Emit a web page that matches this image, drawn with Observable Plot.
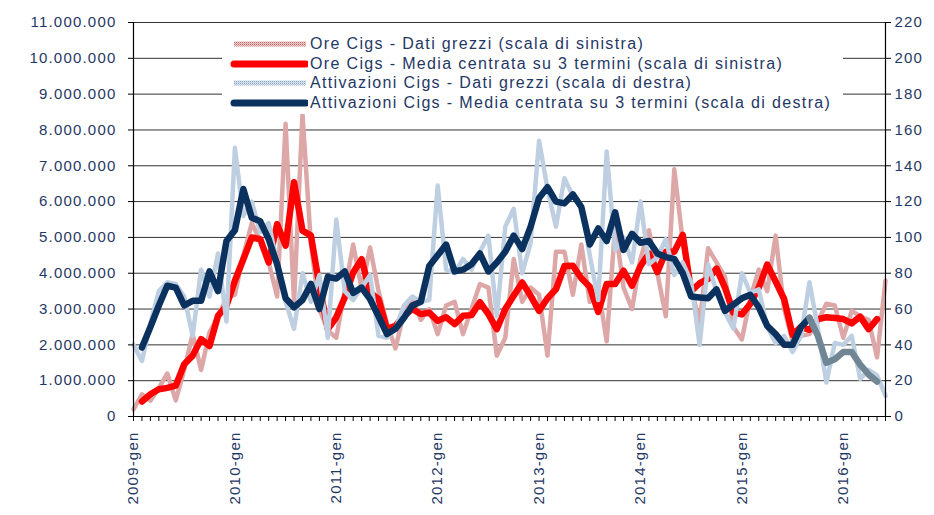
<!DOCTYPE html>
<html>
<head>
<meta charset="utf-8">
<script src="https://cdn.jsdelivr.net/npm/d3@7"></script>
<script src="https://cdn.jsdelivr.net/npm/@observablehq/plot@0.6"></script>
<style>
  body { margin: 0; background: #fff; }
  #wrap { position: relative; width: 934px; height: 515px; }
  #chart svg text { letter-spacing: 1.2px; }
  #legend { position: absolute; left: 222px; top: 34px; width: 621px; height: 80px; background: #fff;
    font-family: "Liberation Sans", Arial, sans-serif; font-size: 16px; letter-spacing: 1.35px; color: #1f3864; }
  .row { position: absolute; left: 8px; height: 20px; display: flex; align-items: center; white-space: nowrap; }
  .row svg { margin-right: 2px; }
</style>
</head>
<body>
<svg width="0" height="0" style="position:absolute">
  <defs>
    <pattern id="patRed" width="2" height="2" patternUnits="userSpaceOnUse">
      <rect width="2" height="2" fill="#f1d2d2"/><rect width="1" height="1" fill="#b85f5f"/><rect x="1" y="1" width="1" height="1" fill="#d99a9a"/>
    </pattern>
    <pattern id="patBlue" width="2" height="2" patternUnits="userSpaceOnUse">
      <rect width="2" height="2" fill="#dfe8f2"/><rect width="1" height="1" fill="#84a2c3"/><rect x="1" y="1" width="1" height="1" fill="#b5c9de"/>
    </pattern>
    <pattern id="patGray" width="2" height="2" patternUnits="userSpaceOnUse">
      <rect width="2" height="2" fill="#5d7584"/><rect width="1" height="1" fill="#a9bac6"/>
    </pattern>
  </defs>
</svg>
<div id="wrap"><div id="chart"></div><div id="legend"></div></div>
<script>
// Etichette dell'asse orizzontale (una ogni gennaio)
const tickLabels = ["2009-gen", "2010-gen", "2011-gen", "2012-gen", "2013-gen", "2014-gen", "2015-gen", "2016-gen"];

// Ore Cigs - dati grezzi (milioni di ore), gen 2009 - giu 2016
const oreGrezzi = [0.2,0.62,0.44,0.8,1.2,0.45,1.3,2.3,1.3,2.35,
  2.8,3.3,3.4,4.5,5.4,4.9,4.3,3.35,8.17,3.2,
  8.45,4.8,3.0,2.4,2.2,3.5,4.8,3.56,4.72,3.5,
  2.6,1.9,2.9,3.3,2.7,3.0,2.3,3.1,3.2,2.3,
  3.0,3.7,3.6,1.7,2.2,4.4,3.2,3.6,3.4,1.7,
  4.6,4.6,3.4,4.8,3.2,3.6,2.1,5.3,3.6,3.0,
  4.4,5.2,4.0,2.8,6.9,4.9,3.6,2.6,4.7,4.3,
  3.9,2.5,2.15,3.3,4.1,3.5,5.05,3.0,2.1,2.25,
  2.3,2.65,3.15,3.1,2.2,2.95,2.8,2.7,1.65,3.8];

// Ore Cigs - media centrata su 3 termini (milioni di ore)
const oreMedia = [null,0.42,0.62,0.76,0.8,0.86,1.46,1.7,2.16,1.97,
  2.81,3.09,3.79,4.39,5.0,4.95,4.3,5.37,4.77,6.54,
  5.19,5.05,3.65,2.44,2.77,3.32,4.02,4.39,3.46,3.28,
  2.44,2.53,2.81,3.0,2.86,2.9,2.67,2.77,2.58,2.81,
  2.83,3.19,2.86,2.44,3.0,3.37,3.74,3.37,2.95,3.3,
  3.55,4.2,4.21,3.86,3.62,2.92,3.7,3.7,4.07,3.65,
  4.2,4.55,4.03,4.6,4.6,5.07,3.5,3.72,3.84,4.13,
  3.6,2.9,2.85,3.15,3.6,4.24,3.77,3.28,2.28,2.5,
  2.42,2.72,2.77,2.75,2.72,2.6,2.79,2.44,2.72,null];

// Attivazioni Cigs - dati grezzi (scala di destra)
const attivGrezzi = [40,31,52,70,75,74,67,45,82,67,
  91,53,150,112,120,103,108,86,64,49,
  80,64,79,44,110,70,65,72,79,45,
  44,49,62,67,64,65,129,82,80,88,
  82,92,101,56,106,116,80,97,154,127,
  106,133,123,118,90,65,148,93,100,86,
  120,85,89,99,79,86,75,40,85,70,
  58,49,80,69,71,50,41,45,36,45,
  75,49,19,41,40,45,21,26,23,11.5];

// Attivazioni Cigs - media centrata su 3 termini (scala di destra)
const attivMedia = [null,38.5,50,62,73,72,62,64.6,64.6,81,
  70,98,104,127,111,109,99,85,66,61,
  65,74,60,78,77,81,69,72,65.5,56,
  46,49,55,62,64,84,90,96,81,82,
  85,91,81,86,92,101,93.5,106,122,128,
  120,119,124,117,96,105,98,114,93,102,
  97,98,91,89,88,80,67,66.5,66,71,
  59,62.5,66,68,61,50.6,46,40,40,50,
  55,45,30,32,36,36,29,23.5,19.5,null];
const attivMediaUltimoDefinitivo = 80; // da qui la media è tracciata in grigio

const yTicksLeft = d3.range(0, 11000001, 1000000);
const yTicksRight = d3.range(0, 221, 20);
const K = 11000000 / 220; // scala di destra -> scala di sinistra

const idx = d3.range(oreGrezzi.length);
const rows = (arr, f, keep = () => true) => idx.filter(i => arr[i] != null && keep(i)).map(i => ({i, v: arr[i] * f}));

const fmt = d3.formatLocale({decimal: ",", thousands: ".", grouping: [3], currency: ["", "€"]}).format(",.0f");
const navy = "#1f3864";

const chart = Plot.plot({
  width: 934, height: 515,
  marginLeft: 133, marginRight: 49, marginTop: 22, marginBottom: 99,
  x: {domain: [0, idx.length - 1], axis: null},
  y: {domain: [0, 11000000], axis: null},
  style: {fontFamily: "'Liberation Sans', Arial, sans-serif", fontSize: "15px", background: "#fff", color: navy},
  marks: [
    Plot.gridY(yTicksLeft, {stroke: "#333", strokeOpacity: 1}),
    Plot.line(rows(oreGrezzi, 1e6), {x: "i", y: "v", stroke: "url(#patRed)", strokeWidth: 4.5}),
    Plot.line(rows(oreMedia, 1e6), {x: "i", y: "v", stroke: "#ff0000", strokeWidth: 6.5, strokeLinejoin: "round", strokeLinecap: "round"}),
    Plot.line(rows(attivGrezzi, K), {x: "i", y: "v", stroke: "url(#patBlue)", strokeWidth: 4.5}),
    Plot.line(rows(attivMedia, K, i => i <= attivMediaUltimoDefinitivo), {x: "i", y: "v", stroke: "#0b325e", strokeWidth: 6.5, strokeLinejoin: "round", strokeLinecap: "round"}),
    Plot.line(rows(attivMedia, K, i => i >= attivMediaUltimoDefinitivo), {x: "i", y: "v", stroke: "url(#patGray)", strokeWidth: 6.5, strokeLinejoin: "round", strokeLinecap: "round"}),
    Plot.ruleX([0, idx.length - 1], {stroke: "#000", strokeWidth: 1.2}),
    Plot.ruleY([0], {stroke: "#000", strokeWidth: 1.2}),
    Plot.axisY(yTicksLeft, {anchor: "left", tickSize: 5, tickPadding: 12, tickFormat: fmt, stroke: "#000", fill: navy, label: null}),
    Plot.axisY(yTicksRight.map(v => v * K), {anchor: "right", tickSize: 5, tickPadding: 4, tickFormat: d => String(Math.round(d / K)), stroke: "#000", fill: navy, label: null}),
    Plot.axisX(idx, {anchor: "bottom", tickSize: 5, tickFormat: () => "", stroke: "#000", label: null}),
    Plot.axisX(tickLabels.map((_, k) => k * 12), {anchor: "bottom", tickSize: 0, tickPadding: 15, tickRotate: -90, tickFormat: d => tickLabels[d / 12], fill: navy, label: null})
  ]
});
document.getElementById("chart").append(chart);

// Legenda
const legendItems = [
  {label: "Ore Cigs - Dati grezzi (scala di sinistra)", stroke: "url(#patRed)", width: 5, cap: "butt"},
  {label: "Ore Cigs - Media centrata su 3 termini (scala di sinistra)", stroke: "#ff0000", width: 7, cap: "round"},
  {label: "Attivazioni Cigs - Dati grezzi (scala di destra)", stroke: "url(#patBlue)", width: 5, cap: "butt"},
  {label: "Attivazioni Cigs - Media centrata su 3 termini (scala di destra)", stroke: "#0b325e", width: 7, cap: "round"}
];
const legend = d3.select("#legend");
legendItems.forEach((it, k) => {
  const row = legend.append("div").attr("class", "row").style("top", (k * 19.6) + "px");
  const s = row.append("svg").attr("width", 78).attr("height", 20);
  s.append("line").attr("x1", 4).attr("x2", 76).attr("y1", 10).attr("y2", 10)
    .attr("stroke", it.stroke).attr("stroke-width", it.width).attr("stroke-linecap", it.cap);
  row.append("span").text(it.label);
});
</script>
</body>
</html>
